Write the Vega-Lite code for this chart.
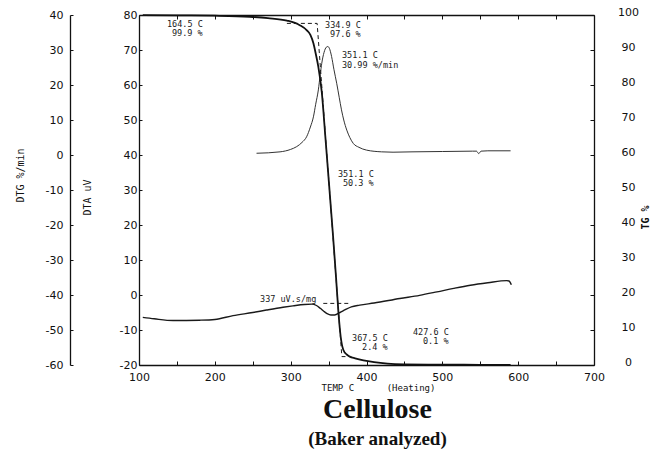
{
  "$schema": "https://vega.github.io/schema/vega-lite/v6.json",
  "width": 455,
  "height": 350,
  "autosize": {"type": "none"},
  "padding": {"left": 139, "top": 15, "right": 61, "bottom": 110},
  "background": "white",
  "config": {
    "view": {"stroke": null},
    "axis": {
      "grid": false,
      "labelFlush": false,
      "labelOverlap": false,
      "domainColor": "#111",
      "domainWidth": 1.3,
      "tickColor": "#111",
      "labelFont": "DejaVu Sans",
      "labelFontSize": 11,
      "labelColor": "#111",
      "titleFont": "DejaVu Sans Mono",
      "titleFontSize": 9,
      "titleFontWeight": "normal",
      "titleColor": "#111"
    }
  },
  "title": {
    "text": "Cellulose",
    "subtitle": "(Baker analyzed)",
    "orient": "bottom",
    "anchor": "middle",
    "frame": "group",
    "dx": 11,
    "offset": 4,
    "font": "Liberation Serif",
    "fontSize": 28,
    "fontWeight": "bold",
    "color": "#111",
    "subtitleFont": "Liberation Serif",
    "subtitleFontSize": 19,
    "subtitleFontWeight": "bold",
    "subtitleColor": "#111",
    "subtitlePadding": 6
  },
  "datasets": {
    "dta": [
      {"T": 105, "DTA": -6.4}, {"T": 120, "DTA": -6.8}, {"T": 145, "DTA": -7.3}, {"T": 180, "DTA": -7.2},
      {"T": 200, "DTA": -7.0}, {"T": 224, "DTA": -5.9}, {"T": 250, "DTA": -5.0}, {"T": 268, "DTA": -4.3},
      {"T": 290, "DTA": -3.5}, {"T": 303, "DTA": -3.1}, {"T": 318, "DTA": -2.7}, {"T": 328, "DTA": -2.6},
      {"T": 334, "DTA": -3.0}, {"T": 339, "DTA": -3.8}, {"T": 344, "DTA": -4.7}, {"T": 348, "DTA": -5.3},
      {"T": 353, "DTA": -5.7}, {"T": 358, "DTA": -5.7}, {"T": 365, "DTA": -5.0}, {"T": 372, "DTA": -4.2},
      {"T": 380, "DTA": -3.4}, {"T": 391, "DTA": -2.9}, {"T": 410, "DTA": -2.3}, {"T": 444, "DTA": -1.0},
      {"T": 470, "DTA": -0.1}, {"T": 493, "DTA": 0.9}, {"T": 515, "DTA": 1.9}, {"T": 537, "DTA": 2.8},
      {"T": 560, "DTA": 3.5}, {"T": 585, "DTA": 4.1}, {"T": 588, "DTA": 4.0}, {"T": 591, "DTA": 2.9}
    ],
    "dtaBase": [{"T": 343, "DTA": -2.4}, {"T": 378, "DTA": -2.4}],
    "dtg": [
      {"T": 255, "DTG": 0.5}, {"T": 286, "DTG": 0.9}, {"T": 300, "DTG": 1.6}, {"T": 308, "DTG": 2.4},
      {"T": 315, "DTG": 3.6}, {"T": 321, "DTG": 5.2}, {"T": 326, "DTG": 8.0}, {"T": 330, "DTG": 10.9},
      {"T": 333, "DTG": 14.5}, {"T": 336.5, "DTG": 18.6}, {"T": 339, "DTG": 23.0}, {"T": 341, "DTG": 26.2},
      {"T": 344, "DTG": 29.3}, {"T": 347, "DTG": 30.8}, {"T": 349, "DTG": 31.0}, {"T": 351, "DTG": 30.5},
      {"T": 354, "DTG": 28.1}, {"T": 357, "DTG": 24.5}, {"T": 360.7, "DTG": 20.5}, {"T": 364, "DTG": 16.5},
      {"T": 367, "DTG": 12.9}, {"T": 370, "DTG": 10.0}, {"T": 374, "DTG": 7.1}, {"T": 378, "DTG": 5.0},
      {"T": 382.6, "DTG": 3.3}, {"T": 390, "DTG": 2.2}, {"T": 400, "DTG": 1.4}, {"T": 420, "DTG": 0.9},
      {"T": 435, "DTG": 0.8}, {"T": 460, "DTG": 0.9}, {"T": 500, "DTG": 1.0}, {"T": 540, "DTG": 1.1},
      {"T": 545, "DTG": 1.1}, {"T": 548, "DTG": 0.4}, {"T": 551, "DTG": 1.1}, {"T": 560, "DTG": 1.2},
      {"T": 590, "DTG": 1.2}
    ],
    "tg": [
      {"T": 105, "TG": 99.95}, {"T": 150, "TG": 99.9}, {"T": 200, "TG": 99.8}, {"T": 246, "TG": 99.5},
      {"T": 270, "TG": 99.1}, {"T": 295, "TG": 98.4}, {"T": 312, "TG": 97.1}, {"T": 321, "TG": 95.7},
      {"T": 326, "TG": 94.3}, {"T": 330, "TG": 91.9}, {"T": 333, "TG": 89.0}, {"T": 336.5, "TG": 85.2},
      {"T": 341, "TG": 78.0}, {"T": 346, "TG": 64.5}, {"T": 351.1, "TG": 50.3}, {"T": 356, "TG": 36.5},
      {"T": 360, "TG": 24.5}, {"T": 363, "TG": 15.0}, {"T": 366, "TG": 8.0}, {"T": 369.5, "TG": 4.3},
      {"T": 374, "TG": 3.0}, {"T": 378, "TG": 2.4}, {"T": 385, "TG": 1.9}, {"T": 396, "TG": 1.3},
      {"T": 410, "TG": 0.8}, {"T": 427.6, "TG": 0.4}, {"T": 450, "TG": 0.2}, {"T": 500, "TG": 0.1},
      {"T": 550, "TG": 0.05}, {"T": 590, "TG": 0.0}
    ],
    "tgTangent": [
      {"T": 295, "TG": 97.6}, {"T": 334.9, "TG": 97.6}, {"T": 367.5, "TG": 2.4}, {"T": 380, "TG": 2.4}
    ],
    "notes": [
      {"label": "164.5 C", "T": 136.9, "DTA": 77.4},
      {"label": "99.9 %", "T": 143.5, "DTA": 74.9},
      {"label": "334.9 C", "T": 345.3, "DTA": 77.1},
      {"label": "97.6 %", "T": 351.9, "DTA": 74.6},
      {"label": "351.1 C", "T": 367.7, "DTA": 68.6},
      {"label": "30.99 %/min", "T": 367.7, "DTA": 65.7},
      {"label": "351.1 C", "T": 362.4, "DTA": 34.6},
      {"label": "50.3 %", "T": 369.0, "DTA": 32.0},
      {"label": "337 uV.s/mg", "T": 259.6, "DTA": -1.1},
      {"label": "367.5 C", "T": 380.9, "DTA": -12.3},
      {"label": "2.4 %", "T": 394.1, "DTA": -14.9},
      {"label": "427.6 C", "T": 461.3, "DTA": -10.6},
      {"label": "0.1 %", "T": 474.5, "DTA": -13.1}
    ]
  },
  "resolve": {"scale": {"y": "independent"}, "axis": {"x": "independent", "y": "independent"}},
  "layer": [
    {
      "data": {"name": "dta"},
      "mark": {"type": "line", "color": "#1a1a1a", "strokeWidth": 1.4, "interpolate": "monotone"},
      "encoding": {
        "x": {"field": "T", "type": "quantitative", "scale": {"domain": [100, 700], "nice": false},
          "axis": {"orient": "bottom", "values": [100,150,200,250,300,350,400,450,500,550,600,650,700],
            "labelExpr": "datum.value % 100 === 0 ? datum.label : ''",
            "tickSize": -4, "labelPadding": 10,
            "title": "TEMP C\u00a0\u00a0\u00a0\u00a0\u00a0\u00a0(Heating)", "titleX": 239, "titleY": 22, "titleBaseline": "middle"}},
        "y": {"field": "DTA", "type": "quantitative", "scale": {"domain": [-20, 80], "nice": false, "zero": false},
          "axis": {"orient": "left", "values": [-20,-10,0,10,20,30,40,50,60,70,80], "tickSize": -3, "labelPadding": 5,
            "labelExpr": "replace(datum.label, '\u2212', '-')",
            "title": "DTA uV", "titleX": -52, "titleY": 182, "titleAngle": -90, "titleBaseline": "middle", "titleFontSize": 10}}
      }
    },
    {
      "data": {"name": "dtaBase"},
      "mark": {"type": "line", "color": "#1a1a1a", "strokeWidth": 1, "strokeDash": [4, 3]},
      "encoding": {
        "x": {"field": "T", "type": "quantitative", "scale": {"domain": [100, 700], "nice": false}, "axis": null},
        "y": {"field": "DTA", "type": "quantitative", "scale": {"domain": [-20, 80], "nice": false, "zero": false}, "axis": null}
      }
    },
    {
      "data": {"name": "dtg"},
      "mark": {"type": "line", "color": "#333", "strokeWidth": 1, "interpolate": "monotone"},
      "encoding": {
        "x": {"field": "T", "type": "quantitative", "scale": {"domain": [100, 700], "nice": false},
          "axis": {"orient": "top", "values": [100,150,200,250,300,350,400,450,500,550,600,650,700],
            "labels": false, "tickSize": -4, "title": null}},
        "y": {"field": "DTG", "type": "quantitative", "scale": {"domain": [-60, 40], "nice": false, "zero": false},
          "axis": {"orient": "left", "offset": 69, "values": [-60,-50,-40,-30,-20,-10,0,10,20,30,40], "tickSize": -3, "labelPadding": 10,
            "labelExpr": "replace(datum.label, '\u2212', '-')",
            "title": "DTG %/min", "titleX": -50, "titleY": 160, "titleAngle": -90, "titleBaseline": "middle", "titleFontSize": 10}}
      }
    },
    {
      "data": {"name": "tg"},
      "mark": {"type": "line", "color": "#111", "strokeWidth": 1.8, "interpolate": "monotone"},
      "encoding": {
        "x": {"field": "T", "type": "quantitative", "scale": {"domain": [100, 700], "nice": false}, "axis": null},
        "y": {"field": "TG", "type": "quantitative", "scale": {"domain": [0, 100], "nice": false},
          "axis": {"orient": "right", "values": [0,10,20,30,40,50,60,70,80,90,100], "tickSize": -4,
            "labelAlign": "center", "labelPadding": 38, "labelOffset": -3,
            "title": "TG %", "titleX": 51, "titleY": 202, "titleAngle": -90, "titleBaseline": "middle", "titleFontWeight": "bold", "titleFontSize": 10}}
      }
    },
    {
      "data": {"name": "tgTangent"},
      "mark": {"type": "line", "color": "#1a1a1a", "strokeWidth": 1, "strokeDash": [4, 3]},
      "encoding": {
        "x": {"field": "T", "type": "quantitative", "scale": {"domain": [100, 700], "nice": false}, "axis": null},
        "y": {"field": "TG", "type": "quantitative", "scale": {"domain": [0, 100], "nice": false}, "axis": null}
      }
    },
    {
      "data": {"name": "notes"},
      "mark": {"type": "text", "align": "left", "baseline": "middle", "font": "DejaVu Sans Mono", "fontSize": 8.5, "color": "#1a1a1a"},
      "encoding": {
        "x": {"field": "T", "type": "quantitative", "scale": {"domain": [100, 700], "nice": false}, "axis": null},
        "y": {"field": "DTA", "type": "quantitative", "scale": {"domain": [-20, 80], "nice": false, "zero": false}, "axis": null},
        "text": {"field": "label", "type": "nominal"}
      }
    }
  ]
}
